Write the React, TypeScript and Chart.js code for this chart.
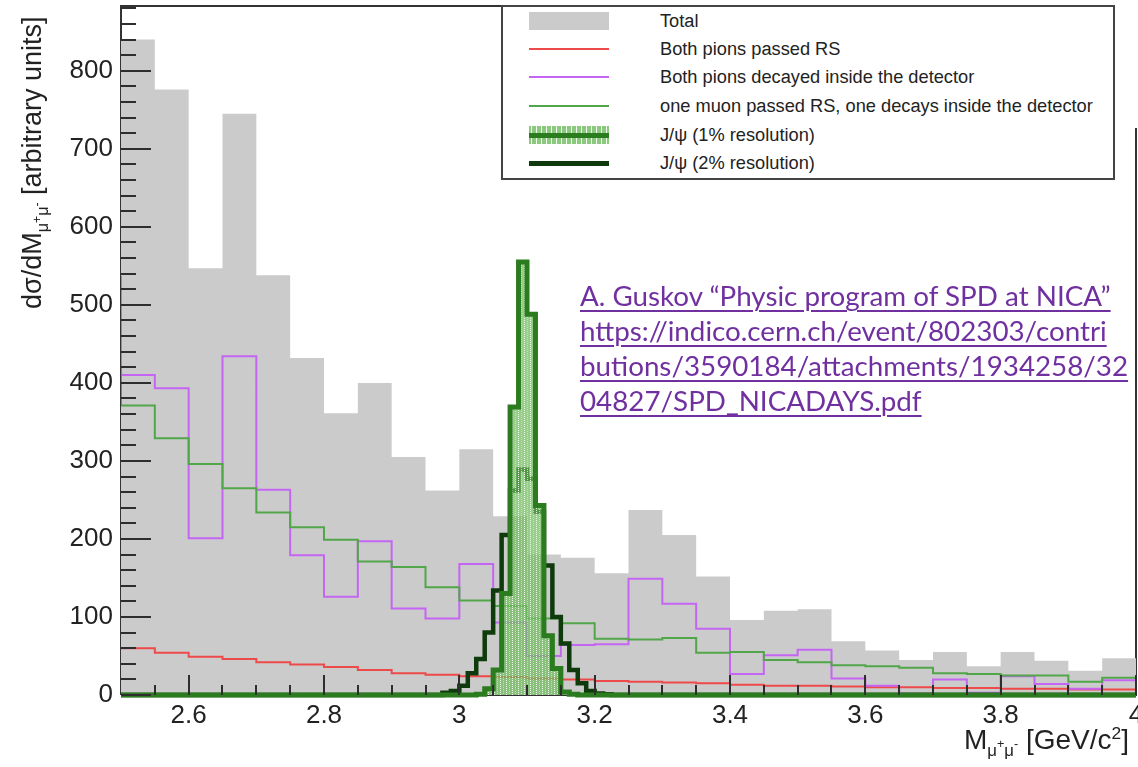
import React, { useEffect, useRef, useMemo } from "react";
import { Chart, registerables } from "chart.js";

Chart.register(...registerables);

// ---------------- data ----------------
const binStart = 2.5;
const binWidth = 0.05;
const totalCounts = [840, 776, 547, 745, 538, 432, 361, 400, 305, 262, 315, 229, 180, 176, 156, 237, 205, 152, 96, 108, 110, 69, 57, 45, 55, 37, 55, 44, 31, 47];
const pionsPassedRS = [60, 54, 49, 46, 42, 39, 36, 32, 28, 26, 24, 23, 21, 20, 18, 17, 16, 15, 13, 12, 12, 11, 10, 10, 9, 9, 8, 8, 7, 7];
const pionsDecayedPrevBin = 536;
const pionsDecayed = [410, 393, 201, 434, 263, 179, 126, 197, 111, 98, 168, 93, 50, 64, 65, 149, 117, 85, 27, 51, 58, 21, 12, 2, 20, 3, 24, 14, 8, 19];
const muonPionPrevBin = 420;
const muonPion = [371, 329, 296, 265, 234, 215, 199, 171, 164, 138, 121, 114, 98, 92, 72, 71, 73, 54, 55, 45, 42, 38, 37, 35, 28, 27, 25, 25, 17, 22];

const psiBinStart = 2.975;
const psiBinWidth = 0.0125;
const jpsiRes1 = [0, 0, 0, 0, 1, 8, 32, 130, 369, 555, 488, 243, 76, 34, 4, 1, 0, 0, 0, 0];
const jpsiRes2 = [3, 5, 12, 28, 46, 80, 134, 205, 262, 289, 277, 235, 166, 100, 66, 32, 15, 5, 2, 1];

const xRange = [2.5, 4.0];
const yRange = [0, 883];
const xTickValues = [2.6, 2.8, 3.0, 3.2, 3.4, 3.6, 3.8, 4.0];
const yTickValues = [0, 100, 200, 300, 400, 500, 600, 700, 800];

const legendLabels = [
  "Total",
  "Both pions passed RS",
  "Both pions decayed inside the detector",
  "one muon passed RS, one decays inside the detector",
  "J/\u03c8 (1% resolution)",
  "J/\u03c8 (2% resolution)",
];

const noteLines = [
  "A. Guskov \u201cPhysic program of SPD at NICA\u201d",
  "https://indico.cern.ch/event/802303/contri",
  "butions/3590184/attachments/1934258/32",
  "04827/SPD_NICADAYS.pdf",
];

// ---------------- colours ----------------
const C_TOTAL = "#cbcbcb";
const C_RED = "#ee4a4a";
const C_PURPLE = "#c565f4";
const C_GREEN = "#52a64a";
const C_PSI1 = "#2b7b1f";
const C_PSI2 = "#0f3b0c";
const C_NOTE = "#7030a0";

// build step-histogram points (bin low edges + closing edge)
function histPoints(start: number, width: number, values: number[], prev?: number, padTo?: [number, number]) {
  const pts: { x: number; y: number }[] = [];
  if (padTo) pts.push({ x: padTo[0], y: 0 });
  if (prev !== undefined) pts.push({ x: start - width, y: prev });
  values.forEach((v, i) => pts.push({ x: start + i * width, y: v }));
  const end = start + values.length * width;
  if (padTo) {
    pts.push({ x: end, y: 0 });
    pts.push({ x: padTo[1], y: 0 });
  } else {
    pts.push({ x: end, y: values[values.length - 1] });
  }
  return pts;
}

function makeHatch(): CanvasPattern | string {
  const c = document.createElement("canvas");
  c.width = 6;
  c.height = 4;
  const g = c.getContext("2d");
  if (!g) return "rgba(110,185,95,0.7)";
  g.fillStyle = "rgba(112,186,96,0.72)";
  g.fillRect(0, 0, 6, 4);
  g.fillStyle = "rgba(240,252,236,0.95)";
  g.fillRect(2, 0, 1, 1);
  g.fillRect(2, 2, 1, 1);
  g.fillStyle = "rgba(195,232,185,0.9)";
  g.fillRect(5, 1, 1, 1);
  g.fillRect(5, 3, 1, 1);
  const p = g.createPattern(c, "repeat");
  return p || "rgba(110,185,95,0.7)";
}

function fitFont(text: string, family: string, target: number) {
  const c = document.createElement("canvas").getContext("2d");
  if (!c) return 20;
  c.font = `100px ${family}`;
  const w = c.measureText(text).width;
  return w > 0 ? (100 * target) / w : 20;
}

const rootFrame = {
  id: "rootFrame",
  beforeDatasetsDraw(chart: any) {
    const { ctx, chartArea: a } = chart;
    ctx.save();
    ctx.strokeStyle = "#333";
    ctx.lineWidth = 2;
    ctx.beginPath();
    ctx.moveTo(a.left, a.bottom);
    ctx.lineTo(a.left, a.top);
    ctx.lineTo(1113, a.top);
    ctx.moveTo(a.right, 128);
    ctx.lineTo(a.right, a.bottom);
    ctx.lineTo(a.left, a.bottom);
    ctx.stroke();
    ctx.restore();
  },
  afterDatasetsDraw(chart: any) {
    const { ctx, chartArea: a, scales } = chart;
    const xs = scales.x;
    const ys = scales.y;
    ctx.save();
    ctx.strokeStyle = "#2e2e2e";
    ctx.lineWidth = 2;
    ctx.beginPath();
    for (let k = 0; k * 20 <= yRange[1]; k++) {
      const v = k * 20;
      const y = Math.round(ys.getPixelForValue(v));
      const len = v % 100 === 0 ? 30 : 15;
      ctx.moveTo(a.left, y);
      ctx.lineTo(a.left + len, y);
    }
    for (let k = 1; ; k++) {
      const v = xRange[0] + k * 0.05;
      if (v > xRange[1] + 1e-6) break;
      const x = Math.round(xs.getPixelForValue(v));
      const r = (v - 2.6) / 0.2;
      const major = Math.abs(r - Math.round(r)) < 1e-6;
      ctx.moveTo(x, a.bottom);
      ctx.lineTo(x, a.bottom - (major ? 20 : 10));
    }
    ctx.stroke();
    ctx.restore();
  },
};

export default function App() {
  const ref = useRef<HTMLCanvasElement | null>(null);

  const noteSize = useMemo(() => fitFont(noteLines[1], "Lato", 527), []);
  const legendSize = useMemo(() => fitFont(legendLabels[3], '"Liberation Sans"', 433), []);

  useEffect(() => {
    if (!ref.current) return;
    const hatch = makeHatch();
    const datasets: any[] = [
      {
        label: legendLabels[4],
        data: histPoints(psiBinStart, psiBinWidth, jpsiRes1, undefined, [xRange[0], xRange[1]]),
        stepped: true,
        borderColor: C_PSI1,
        borderWidth: 5,
        backgroundColor: hatch,
        fill: "origin",
        clip: 6,
        order: 1,
      },
      {
        label: legendLabels[5],
        data: histPoints(psiBinStart, psiBinWidth, jpsiRes2, undefined, [xRange[0], xRange[1]]),
        stepped: true,
        borderColor: C_PSI2,
        borderWidth: 4.5,
        fill: false,
        clip: 6,
        order: 2,
      },
      {
        label: legendLabels[3],
        data: histPoints(binStart, binWidth, muonPion, muonPionPrevBin),
        stepped: true,
        borderColor: C_GREEN,
        borderWidth: 2,
        fill: false,
        order: 3,
      },
      {
        label: legendLabels[2],
        data: histPoints(binStart, binWidth, pionsDecayed, pionsDecayedPrevBin),
        stepped: true,
        borderColor: C_PURPLE,
        borderWidth: 2,
        fill: false,
        order: 4,
      },
      {
        label: legendLabels[1],
        data: histPoints(binStart, binWidth, pionsPassedRS),
        stepped: true,
        borderColor: C_RED,
        borderWidth: 2,
        fill: false,
        order: 5,
      },
      {
        label: legendLabels[0],
        data: histPoints(binStart, binWidth, totalCounts),
        stepped: true,
        borderColor: C_TOTAL,
        borderWidth: 0,
        backgroundColor: C_TOTAL,
        fill: "origin",
        order: 6,
      },
    ];

    const chart = new Chart(ref.current, {
      type: "line",
      data: { datasets },
      options: {
        animation: false,
        responsive: false,
        events: [],
        layout: { padding: { left: 0, right: 2, top: 6, bottom: 0 } },
        elements: { point: { radius: 0 }, line: { tension: 0 } },
        plugins: { legend: { display: false }, tooltip: { enabled: false } },
        scales: {
          x: {
            type: "linear",
            min: xRange[0],
            max: xRange[1],
            grid: { display: false, drawTicks: false },
            border: { display: false },
            afterBuildTicks: (s: any) => {
              s.ticks = xTickValues.map((v) => ({ value: v }));
            },
            afterFit: (s: any) => {
              s.height = 72;
              s.paddingLeft = 0;
              s.paddingRight = 0;
            },
            ticks: {
              autoSkip: false,
              maxRotation: 0,
              padding: 5,
              color: "#222",
              font: { family: '"Liberation Sans", Arial, sans-serif', size: 26 },
              callback: (v: any) => String(Number(Number(v).toFixed(1))),
            },
          },
          y: {
            type: "linear",
            min: yRange[0],
            max: yRange[1],
            grid: { display: false, drawTicks: false },
            border: { display: false },
            afterBuildTicks: (s: any) => {
              s.ticks = yTickValues.map((v) => ({ value: v }));
            },
            afterFit: (s: any) => {
              s.width = 121;
              s.paddingTop = 0;
              s.paddingBottom = 0;
            },
            ticks: {
              padding: 8,
              color: "#222",
              font: { family: '"Liberation Sans", Arial, sans-serif', size: 26 },
            },
          },
        },
      },
      plugins: [rootFrame],
    });
    return () => chart.destroy();
  }, []);

  const rowY = [21, 49, 77, 106, 135, 163];
  const symLeft = 529;
  const symWidth = 80;
  const hatchCss =
    "repeating-linear-gradient(90deg, rgba(112,186,96,0.8) 0px, rgba(112,186,96,0.8) 2px, rgba(238,250,234,0.95) 2px, rgba(238,250,234,0.95) 3px, rgba(112,186,96,0.8) 3px, rgba(112,186,96,0.8) 5px)";

  const symbols = [
    <div key="s0" style={{ position: "absolute", left: symLeft, top: rowY[0] - 9, width: symWidth, height: 18, background: C_TOTAL }} />,
    <div key="s1" style={{ position: "absolute", left: symLeft, top: rowY[1] - 1, width: symWidth, height: 2, background: C_RED }} />,
    <div key="s2" style={{ position: "absolute", left: symLeft, top: rowY[2] - 1, width: symWidth, height: 2, background: C_PURPLE }} />,
    <div key="s3" style={{ position: "absolute", left: symLeft, top: rowY[3] - 1, width: symWidth, height: 2, background: C_GREEN }} />,
    <div key="s4" style={{ position: "absolute", left: symLeft, top: rowY[4] - 9, width: symWidth, height: 18, background: hatchCss }}>
      <div style={{ position: "absolute", left: 0, top: 6.5, width: symWidth, height: 5, background: C_PSI1 }} />
    </div>,
    <div key="s5" style={{ position: "absolute", left: symLeft, top: rowY[5] - 2.5, width: symWidth, height: 5, background: C_PSI2 }} />,
  ];

  const textFont = '"Liberation Sans", Arial, Helvetica, sans-serif';

  return (
    <div style={{ position: "absolute", left: 0, top: 0, width: 1138, height: 767, overflow: "hidden", background: "#fff" }}>
      <canvas ref={ref} width={1138} height={767} style={{ position: "absolute", left: 0, top: 0, width: 1138, height: 767 }} />

      {/* legend box */}
      <div style={{ position: "absolute", left: 501, top: 5, width: 610, height: 171, border: "2px solid #444", background: "#fff" }} />
      {symbols}
      {legendLabels.map((t, i) => (
        <div
          key={t}
          style={{
            position: "absolute",
            left: 660,
            top: rowY[i] - 12,
            height: 24,
            lineHeight: "24px",
            fontFamily: textFont,
            fontSize: legendSize,
            color: "#222",
            whiteSpace: "nowrap",
          }}
        >
          {t}
        </div>
      ))}

      {/* citation note */}
      <div style={{ position: "absolute", left: 580, top: 278, fontFamily: "Lato, sans-serif", fontSize: noteSize, lineHeight: "35px", color: C_NOTE, whiteSpace: "nowrap" }}>
        {noteLines.map((l) => (
          <div key={l} style={{ textDecoration: "underline", textDecorationThickness: "2px", textUnderlineOffset: "4px" }}>
            {l}
          </div>
        ))}
      </div>

      {/* y axis title */}
      <div
        style={{
          position: "absolute",
          left: 0,
          top: 0,
          transformOrigin: "0 0",
          transform: "translate(17px, 309px) rotate(-90deg)",
          fontFamily: textFont,
          fontSize: 27,
          lineHeight: "30px",
          color: "#222",
          whiteSpace: "nowrap",
        }}
      >
        d{"\u03c3"}/dM
        <span style={{ fontSize: "0.6em", position: "relative", top: "0.45em" }}>
          {"\u03bc"}
          <span style={{ fontSize: "0.75em", position: "relative", top: "-0.6em" }}>+</span>
          {"\u03bc"}
          <span style={{ fontSize: "0.75em", position: "relative", top: "-0.6em" }}>-</span>
        </span>{" "}
        [arbitrary units]
      </div>

      {/* x axis title */}
      <div
        style={{
          position: "absolute",
          right: 9,
          top: 724,
          fontFamily: textFont,
          fontSize: 28,
          lineHeight: "32px",
          color: "#222",
          whiteSpace: "nowrap",
        }}
      >
        M
        <span style={{ fontSize: "0.6em", position: "relative", top: "0.4em" }}>
          {"\u03bc"}
          <span style={{ fontSize: "0.75em", position: "relative", top: "-0.6em" }}>+</span>
          {"\u03bc"}
          <span style={{ fontSize: "0.75em", position: "relative", top: "-0.6em" }}>-</span>
        </span>{" "}
        [GeV/c<span style={{ fontSize: "0.62em", position: "relative", top: "-0.6em" }}>2</span>]
      </div>
    </div>
  );
}
